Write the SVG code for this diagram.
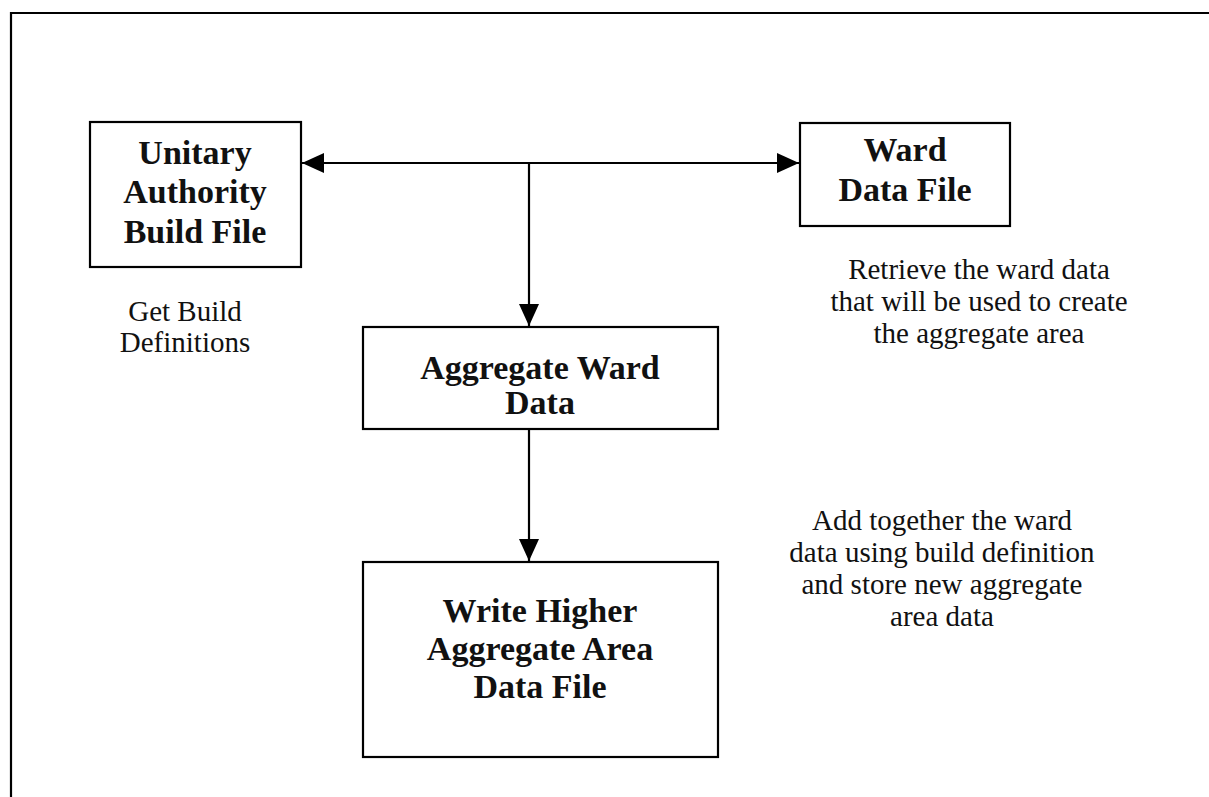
<svg xmlns="http://www.w3.org/2000/svg" width="1209" height="797" viewBox="0 0 1209 797">
<style>
.box{fill:#fff;stroke:#000;stroke-width:2.2}
.lbl{font-family:"Liberation Serif","Times New Roman",serif;font-weight:bold;font-size:34px;fill:#111;text-anchor:middle}
.note{font-family:"Liberation Serif","Times New Roman",serif;font-size:29px;fill:#111;text-anchor:middle}
.ln{stroke:#000;stroke-width:2.2;fill:none}
</style>
<defs>
<marker id="ah" viewBox="0 0 22 20" refX="22" refY="10" markerWidth="22" markerHeight="20" markerUnits="userSpaceOnUse" orient="auto">
<path d="M0,0 L22,10 L0,20 Z" fill="#000"/>
</marker>
</defs>
<rect width="1209" height="797" fill="#fff"/>
<g id="frame">
<path class="ln" d="M11,797 L11,13 L1209,13"/>
</g>
<g id="connectors">
<line class="ln" x1="529" y1="163" x2="302" y2="163" marker-end="url(#ah)"/>
<line class="ln" x1="529" y1="163" x2="799" y2="163" marker-end="url(#ah)"/>
<line class="ln" x1="529" y1="163" x2="529" y2="326" marker-end="url(#ah)"/>
<line class="ln" x1="529" y1="429" x2="529" y2="561" marker-end="url(#ah)"/>
</g>
<g id="unitary">
<rect class="box" x="90" y="122" width="211" height="145"/>
<text class="lbl" x="195" y="164">Unitary</text>
<text class="lbl" x="195" y="203">Authority</text>
<text class="lbl" x="195" y="243">Build File</text>
</g>
<g id="ward">
<rect class="box" x="800" y="123" width="210" height="103"/>
<text class="lbl" x="905" y="161">Ward</text>
<text class="lbl" x="905" y="201">Data File</text>
</g>
<g id="aggregate">
<rect class="box" x="363" y="327" width="355" height="102"/>
<text class="lbl" x="540" y="379">Aggregate Ward</text>
<text class="lbl" x="540" y="414">Data</text>
</g>
<g id="write">
<rect class="box" x="363" y="562" width="355" height="195"/>
<text class="lbl" x="540" y="622">Write Higher</text>
<text class="lbl" x="540" y="660">Aggregate Area</text>
<text class="lbl" x="540" y="698">Data File</text>
</g>
<g id="notes">
<text class="note" x="185" y="321">Get Build</text>
<text class="note" x="185" y="352">Definitions</text>
<text class="note" x="979" y="279">Retrieve the ward data</text>
<text class="note" x="979" y="311">that will be used to create</text>
<text class="note" x="979" y="343">the aggregate area</text>
<text class="note" x="942" y="530">Add together the ward</text>
<text class="note" x="942" y="562">data using build definition</text>
<text class="note" x="942" y="594">and store new aggregate</text>
<text class="note" x="942" y="626">area data</text>
</g>
</svg>
